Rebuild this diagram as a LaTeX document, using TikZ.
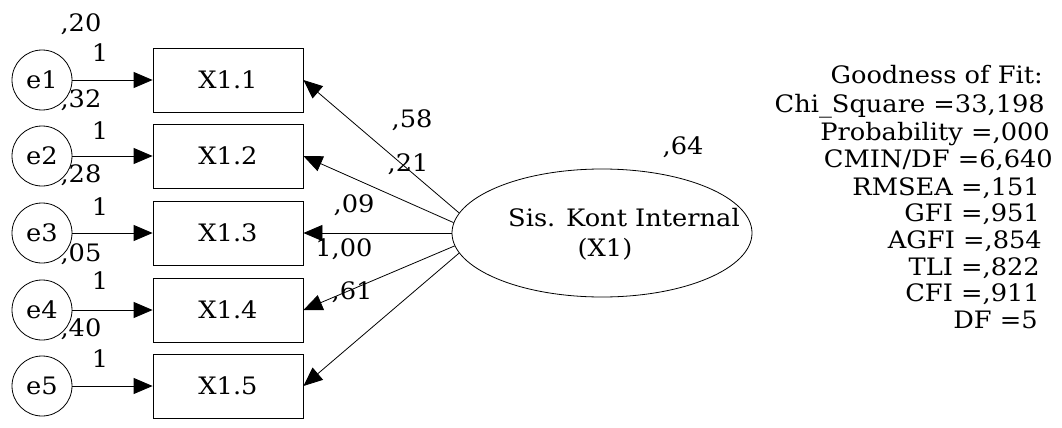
\documentclass[tikz,border=0pt]{standalone}
\usepackage{fontspec}
\setmainfont{DejaVu Serif}[FakeStretch=1.07]
\usetikzlibrary{arrows.meta,shapes.geometric}

\begin{document}
\begin{tikzpicture}[x=1pt,y=-1pt,
  every node/.style={font=\fontsize{24}{28}\selectfont, inner sep=0pt},
  obs/.style={draw, line width=0.8pt, minimum width=150pt, minimum height=64pt},
  err/.style={draw, circle, line width=0.8pt, minimum size=60pt},
  lat/.style={draw, ellipse, line width=0.8pt, minimum width=300pt, minimum height=128pt},
  arr/.style={line width=0.8pt, -{Triangle[length=19pt,width=16pt]}},
  est/.style={anchor=base},
  gof/.style={anchor=base east}]
\useasboundingbox (0,0) rectangle (1062,428);

% error terms and indicators
\node[err] (e1) at (42,80)  {e1};
\node[err] (e2) at (42,156) {e2};
\node[err] (e3) at (42,233) {e3};
\node[err] (e4) at (42,310) {e4};
\node[err] (e5) at (42,386) {e5};

\node[obs] (b1) at (228,80)  {X1.1};
\node[obs] (b2) at (228,156) {X1.2};
\node[obs] (b3) at (228,233) {X1.3};
\node[obs] (b4) at (228,310) {X1.4};
\node[obs] (b5) at (228,386) {X1.5};

% latent construct
\node[lat] (f1) at (602,233) {};
\node[est] (fa) at (624,226) {Sis. Kont Internal};
\node[est] (fb) at (605,256) {(X1)};

% residual paths
\foreach \i in {1,...,5} \draw[arr] (e\i) -- (b\i.west);

% loading paths
\draw[arr] (f1.172) -- (b1.east);
\draw[arr] (f1.176) -- (b2.east);
\draw[arr] (f1.180) -- (b3.east);
\draw[arr] (f1.185) -- (b4.east);
\draw[arr] (f1.188) -- (b5.east);

% error variances and fixed weights
\node[est] (v1) at (81,32)  {,20};
\node[est] (w1) at (100,61) {1};
\node[est] (v2) at (81,107) {,32};
\node[est] (w2) at (100,139) {1};
\node[est] (v3) at (81,182) {,28};
\node[est] (w3) at (100,215) {1};
\node[est] (v4) at (81,261) {,05};
\node[est] (w4) at (100,289) {1};
\node[est] (v5) at (81,336) {,40};
\node[est] (w5) at (100,367) {1};

% loadings and latent variance
\node[est] (l1) at (412,127) {,58};
\node[est] (l2) at (408,171) {,21};
\node[est] (l3) at (354,212) {,09};
\node[est] (l4) at (344,256) {1,00};
\node[est] (l5) at (352,299) {,61};
\node[est] (vf) at (683,154) {,64};

% fit summary
\node[gof] (g0) at (1043,83)  {Goodness of Fit:};
\node[gof] (g1) at (1045,112) {Chi\_Square =33,198};
\node[gof] (g2) at (1050,140) {Probability =,000};
\node[gof] (g3) at (1053,167) {CMIN/DF =6,640};
\node[gof] (g4) at (1040,195) {RMSEA =,151};
\node[gof] (g5) at (1040,221) {GFI =,951};
\node[gof] (g6) at (1042,248) {AGFI =,854};
\node[gof] (g7) at (1040,275) {TLI =,822};
\node[gof] (g8) at (1040,301) {CFI =,911};
\node[gof] (g9) at (1038,328) {DF =5};
\end{tikzpicture}
\end{document}
